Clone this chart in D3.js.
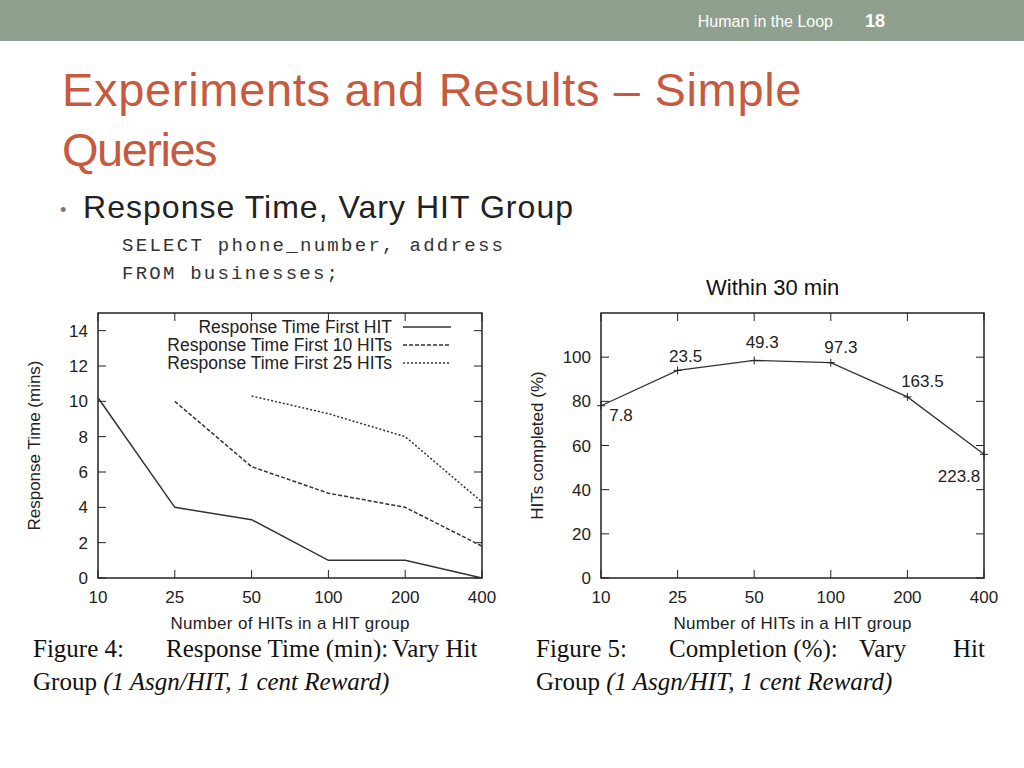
<!DOCTYPE html>
<html><head><meta charset="utf-8">
<script src="https://cdn.jsdelivr.net/npm/d3@7"></script>
<style>
body{margin:0;background:#fff;}
svg{display:block;font-family:"Liberation Sans",Arial,sans-serif;}
</style></head>
<body>
<script>
const groups = ['10','25','50','100','200','400'];
const firstHit = [10.2,4,3.3,1,1,0];
const first10 = [null,10,6.3,4.8,4,1.8];
const first25 = [null,null,10.3,9.3,8,4.3];
const completed = [78,94,98.5,97.5,82,56];
const minutes = ['7.8','23.5','49.3','97.3','163.5','223.8'];
const leftTicks = [0,2,4,6,8,10,12,14];
const rightTicks = [0,20,40,60,80,100];

const svg = d3.select('body').append('svg').attr('width',1024).attr('height',768);

// header bar
svg.append('rect').attr('width',1024).attr('height',41).attr('fill','#8fa08f');
svg.append('text').attr('x',833).attr('y',27).attr('text-anchor','end').attr('fill','#fff')
  .style('font-size','16px').text('Human in the Loop');
svg.append('text').attr('x',875).attr('y',27).attr('text-anchor','middle').attr('fill','#fff')
  .style('font-size','18px').style('font-weight','bold').text('18');

svg.append('text').attr('x',62).attr('y',106).attr('fill','#c55a3f')
  .style('font-size','47px').style('letter-spacing','-1.5px').attr('textLength',738).text('Experiments and Results – Simple');
svg.append('text').attr('x',62).attr('y',166).attr('fill','#c55a3f')
  .style('font-size','47px').style('letter-spacing','-1.5px').text('Queries');
svg.append('text').attr('x',60).attr('y',216).attr('fill','#777').style('font-size','18px').text('•');
svg.append('text').attr('x',83).attr('y',218).attr('fill','#222').style('font-size','32px').attr('textLength',490).text('Response Time, Vary HIT Group');
svg.append('text').attr('x',122).attr('y',251).attr('fill','#333').style('font-family','"Liberation Mono",monospace')
  .style('font-size','19px').attr('textLength',381).text('SELECT phone_number, address');
svg.append('text').attr('x',122).attr('y',279).attr('fill','#333').style('font-family','"Liberation Mono",monospace')
  .style('font-size','19px').attr('textLength',216).text('FROM businesses;');
svg.append('text').attr('x',706).attr('y',295).attr('fill','#111').style('font-size','22px').text('Within 30 min');

function frame(g, x, y, ticks, x0, x1, y0, y1, ylabel){
  g.append('rect').attr('x',x0).attr('y',y1).attr('width',x1-x0).attr('height',y0-y1)
    .attr('fill','none').attr('stroke','#222').attr('stroke-width',1.5);
  ticks.forEach(t=>{
    g.append('line').attr('x1',x0).attr('x2',x0+8).attr('y1',y(t)).attr('y2',y(t)).attr('stroke','#222');
    g.append('line').attr('x1',x1).attr('x2',x1-8).attr('y1',y(t)).attr('y2',y(t)).attr('stroke','#222');
    g.append('text').attr('x',x0-10).attr('y',y(t)+6).attr('text-anchor','end').style('font-size','17px').attr('fill','#222').text(t);
  });
  groups.forEach(c=>{
    g.append('line').attr('x1',x(c)).attr('x2',x(c)).attr('y1',y0).attr('y2',y0-8).attr('stroke','#222');
    g.append('line').attr('x1',x(c)).attr('x2',x(c)).attr('y1',y1).attr('y2',y1+8).attr('stroke','#222');
    g.append('text').attr('x',x(c)).attr('y',y0+25).attr('text-anchor','middle').style('font-size','17px').attr('fill','#222').text(c);
  });
  g.append('text').attr('x',(x0+x1)/2).attr('y',y0+51).attr('text-anchor','middle').style('font-size','17px').attr('fill','#222')
    .attr('textLength',x1-x0-145).text('Number of HITs in a HIT group');
  g.append('text').attr('transform',`translate(${x0-58},${(y0+y1)/2})rotate(-90)`).attr('text-anchor','middle')
    .style('font-size','17px').attr('fill','#222').text(ylabel);
}

// left chart
const L = svg.append('g');
const xl = d3.scalePoint().domain(groups).range([98,482]);
const yl = d3.scaleLinear().domain([0,15]).range([578,313]);
frame(L, xl, yl, leftTicks, 98, 482, 578, 313, 'Response Time (mins)');
const series = [
  {name:'Response Time First HIT', vals:firstHit, dash:null},
  {name:'Response Time First 10 HITs', vals:first10, dash:'4,2'},
  {name:'Response Time First 25 HITs', vals:first25, dash:'2,2'}
];
const lineL = d3.line().defined(d=>d.v!=null).x(d=>xl(d.c)).y(d=>yl(d.v));
series.forEach((s,i)=>{
  L.append('path').attr('d',lineL(groups.map((c,j)=>({c,v:s.vals[j]}))))
    .attr('fill','none').attr('stroke','#333').attr('stroke-width',1.5).attr('stroke-dasharray',s.dash);
  L.append('text').attr('x',392).attr('y',333+i*18).attr('text-anchor','end').style('font-size','17.5px').attr('fill','#222').text(s.name);
  L.append('line').attr('x1',403).attr('x2',451).attr('y1',327+i*18).attr('y2',327+i*18)
    .attr('stroke','#333').attr('stroke-width',1.5).attr('stroke-dasharray',s.dash);
});

// right chart
const R = svg.append('g');
const xr = d3.scalePoint().domain(groups).range([601,984]);
const yr = d3.scaleLinear().domain([0,120]).range([578,313]);
frame(R, xr, yr, rightTicks, 601, 984, 578, 313, 'HITs completed (%)');
R.append('path').attr('d',d3.line().x((d,i)=>xr(groups[i])).y(d=>yr(d))(completed))
  .attr('fill','none').attr('stroke','#333').attr('stroke-width',1.3);
const offs = [[20,15],[8,-8],[8,-12],[10,-10],[15,-10],[-25,28]];
completed.forEach((v,i)=>{
  const px=xr(groups[i]), py=yr(v);
  R.append('path').attr('d',`M${px-4},${py}H${px+4}M${px},${py-4}V${py+4}`).attr('stroke','#222');
  R.append('text').attr('x',px+offs[i][0]).attr('y',py+offs[i][1]).attr('text-anchor','middle')
    .style('font-size','17px').attr('fill','#222').text(minutes[i]);
});

// captions
const cap = (x,y,parts)=>{
  const t = svg.append('text').attr('x',x).attr('y',y).style('font-family','"Liberation Serif",serif').style('font-size','25px').attr('fill','#111');
  parts.forEach(p=>{
    const s = t.append('tspan').style('font-style',p[1]?'italic':'normal').text(p[0]);
    if(p[2]) s.attr('x',p[2]);
  });
};
cap(33,657,[['Figure 4:',0],['Response Time (min):',0,166],['Vary Hit',0,392]]);
cap(33,690,[['Group ',0],['(1 Asgn/HIT, 1 cent Reward)',1]]);
cap(536,657,[['Figure 5:',0],['Completion (%):',0,669],['Vary',0,859],['Hit',0,953]]);
cap(536,690,[['Group ',0],['(1 Asgn/HIT, 1 cent Reward)',1]]);
</script>
</body></html>
